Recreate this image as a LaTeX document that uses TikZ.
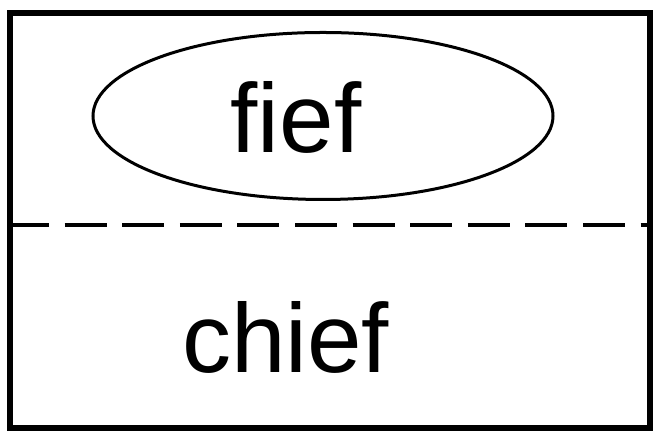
\documentclass[tikz,border=0pt]{standalone}
\usepackage{fontspec}
\setmainfont{Liberation Sans}
\usetikzlibrary{shapes.geometric}

\begin{document}
\begin{tikzpicture}[x=0.5pt, y=0.5pt,
    every node/.style={font=\fontsize{49}{58}\selectfont, inner sep=0pt},
    frame/.style={draw=black, line width=3pt},
    divider/.style={draw=black, line width=2pt, dash pattern=on 21pt off 7.8pt, dash phase=1.5pt},
    oval/.style={ellipse, draw=black, line width=1.5pt, minimum width=230pt, minimum height=83.5pt}]

    \useasboundingbox (0,0) rectangle (653,431);

    % Nodes
    \node[oval] (ring) at (323,315) {};
    \node[anchor=base] (fief) at (296,278) {fief};
    \node[anchor=base] (chief) at (285.5,58) {chief};

    % Frame and divider
    \draw[frame] (10,3) rectangle (650,418);
    \draw[divider] (10,206) -- (653,206);

\end{tikzpicture}
\end{document}
